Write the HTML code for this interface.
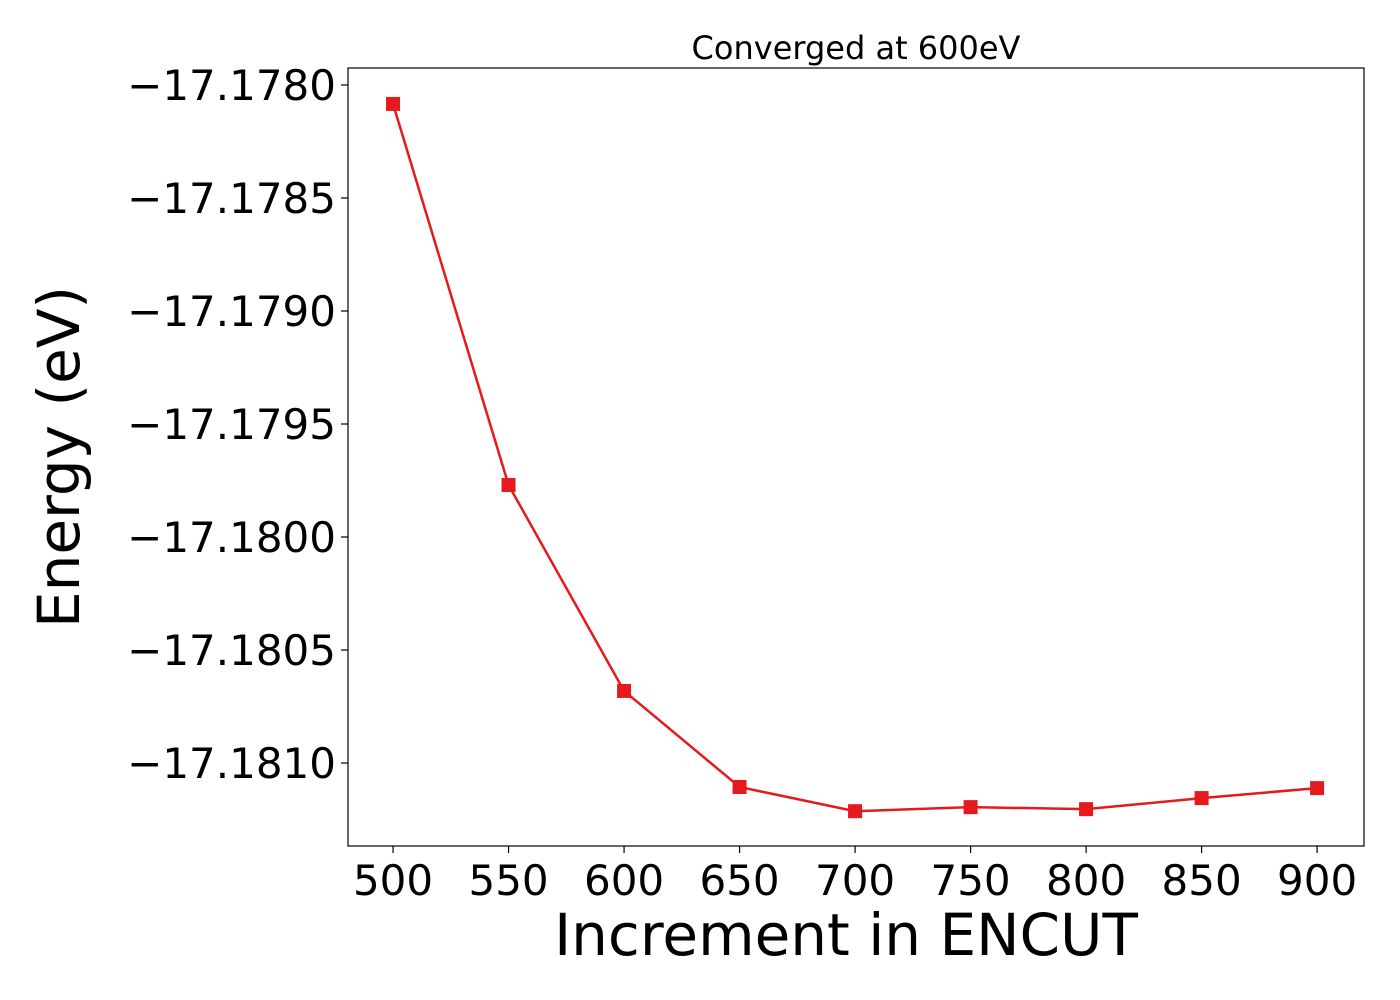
<!DOCTYPE html>
<html><head><meta charset="utf-8"><style>
body{margin:0;background:#fff;}
svg{display:block;font-family:"DejaVu Sans","Liberation Sans",sans-serif;}
</style></head><body>
<svg id="chart" width="1400" height="1000" viewBox="0 0 1400 1000" xmlns="http://www.w3.org/2000/svg">
<rect width="1400" height="1000" fill="#fff"/>
<text x="856" y="59" font-size="32" text-anchor="middle" fill="#000">Converged at 600eV</text>
<g id="xticks"></g>
<g id="yticks"></g>
<g id="series"></g>
<rect x="348" y="68" width="1016" height="778" fill="none" stroke="#000" stroke-width="1.2"/>
<text x="846" y="955" font-size="58" text-anchor="middle" fill="#000">Increment in ENCUT</text>
<text transform="translate(79,457) rotate(-90)" font-size="58" text-anchor="middle" fill="#000">Energy (eV)</text>
</svg>
<script>
const encut = [500,550,600,650,700,750,800,850,900];
const energy = [-17.178084,-17.17977,-17.180681,-17.181106,-17.181213,-17.181195,-17.181204,-17.181155,-17.181111];
const xTicks = [500,550,600,650,700,750,800,850,900];
const yTicks = [-17.178,-17.1785,-17.179,-17.1795,-17.18,-17.1805,-17.181];
const L=348,R=1364,T=68,B=846;
const xMin=480.5,xMax=920.3,yMin=-17.181367,yMax=-17.177925;
const sx=v=>L+(v-xMin)/(xMax-xMin)*(R-L);
const sy=v=>B-(v-yMin)/(yMax-yMin)*(B-T);
const NS="http://www.w3.org/2000/svg";
function mk(tag,attrs,parent){const e=document.createElementNS(NS,tag);for(const k in attrs)e.setAttribute(k,attrs[k]);parent.appendChild(e);return e;}
const gx=document.getElementById('xticks'),gy=document.getElementById('yticks'),gs=document.getElementById('series');
xTicks.forEach(v=>{const x=sx(v);
const t=mk('line',{x1:x,x2:x,y1:B,y2:B+7,stroke:'#000','stroke-width':1.2},gx);


const l=mk('text',{x:x,y:B+49,'font-size':42,'text-anchor':'middle',fill:'#000'},gx);


l.textContent=v;});
yTicks.forEach(v=>{const y=sy(v);
const t=mk('line',{x1:L-7,x2:L,y1:y,y2:y,stroke:'#000','stroke-width':1.2},gy);


const l=mk('text',{x:L-12,y:y+15,'font-size':42,'text-anchor':'end',fill:'#000'},gy);


l.textContent='\u2212'+Math.abs(v).toFixed(4);});
const pts=encut.map((v,i)=>sx(v)+','+sy(energy[i])).join(' ');
const pl=mk('polyline',{points:pts,fill:'none',stroke:'#e41a1c','stroke-width':2.5},gs);


encut.forEach((v,i)=>{
const m=mk('rect',{x:sx(v)-7,y:sy(energy[i])-7,width:14,height:14,fill:'#e41a1c'},gs);

});
</script>
</body></html>
